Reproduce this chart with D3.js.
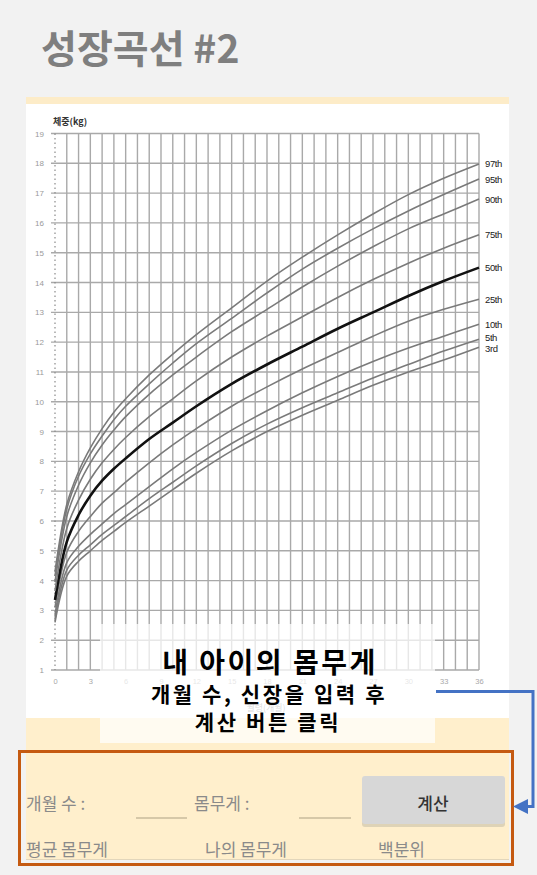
<!DOCTYPE html>
<html>
<head>
<meta charset="utf-8">
<script src="https://cdn.jsdelivr.net/npm/d3@7"></script>
<style>
  html, body { margin: 0; padding: 0; background: #f2f2f2; }
  svg { display: block; }
</style>
</head>
<body>
<svg id="chart" width="537" height="875"></svg>
<script>
// ---- data ----
const months = [0, 1, 2, 3, 4, 5, 6, 8, 10, 12, 15, 18, 21, 24, 27, 30, 33, 36];
const p3  = [2.6, 4.15, 4.65, 5.0, 5.35, 5.65, 5.95, 6.5, 7.05, 7.6, 8.35, 9.0, 9.55, 10.05, 10.55, 11.0, 11.4, 11.83];
const p5  = [2.7, 4.35, 4.85, 5.2, 5.55, 5.85, 6.15, 6.75, 7.3, 7.85, 8.6, 9.25, 9.8, 10.3, 10.8, 11.25, 11.7, 12.1];
const p10 = [2.85, 4.6, 5.15, 5.55, 5.9, 6.25, 6.55, 7.15, 7.75, 8.3, 9.05, 9.7, 10.3, 10.85, 11.35, 11.8, 12.2, 12.6];
const p25 = [3.1, 4.95, 5.65, 6.15, 6.6, 6.95, 7.3, 7.95, 8.55, 9.1, 9.85, 10.5, 11.1, 11.65, 12.2, 12.7, 13.1, 13.44];
const p50 = [3.35, 5.3, 6.2, 6.85, 7.35, 7.75, 8.1, 8.75, 9.3, 9.85, 10.6, 11.25, 11.85, 12.45, 13.0, 13.55, 14.05, 14.5];
const p75 = [3.65, 5.75, 6.7, 7.4, 7.95, 8.4, 8.8, 9.5, 10.1, 10.7, 11.5, 12.2, 12.85, 13.5, 14.1, 14.65, 15.15, 15.6];
const p90 = [3.95, 6.15, 7.2, 7.95, 8.55, 9.05, 9.5, 10.25, 10.9, 11.5, 12.35, 13.1, 13.85, 14.55, 15.2, 15.8, 16.3, 16.8];
const p95 = [4.15, 6.4, 7.5, 8.25, 8.85, 9.4, 9.85, 10.6, 11.3, 11.95, 12.8, 13.65, 14.45, 15.15, 15.8, 16.4, 16.95, 17.47];
const p97 = [4.3, 6.55, 7.65, 8.45, 9.1, 9.65, 10.1, 10.9, 11.6, 12.25, 13.15, 14.05, 14.85, 15.6, 16.3, 16.95, 17.5, 17.98];
const seriesNames = ["3rd", "5th", "10th", "25th", "50th", "75th", "90th", "95th", "97th"];
const seriesValues = [p3, p5, p10, p25, p50, p75, p90, p95, p97];
const xTickValues = [0, 3, 6, 9, 12, 15, 18, 21, 24, 27, 30, 33, 36];
const yTickValues = d3.range(1, 20);
const gridMonths = d3.range(0, 37);

const titleText = "성장곡선 #2";
const yAxisTitle = "체중(kg)";
const xAxisTitle = "월령(개월)";
const overlayLines = ["내 아이의 몸무게", "개월 수, 신장을 입력 후", "계산 버튼 클릭"];
const formRow1 = ["개월 수 :", "몸무게 :"];
const buttonLabel = "계산";
const formRow2 = ["평균 몸무게", "나의 몸무게", "백분위"];

// ---- drawing ----
const svg = d3.select("#chart");
const KR = "'Noto Sans CJK KR', 'Noto Sans', sans-serif";
const LAT = "'Liberation Sans', Arial, sans-serif";

svg.append("rect").attr("width", 537).attr("height", 875).attr("fill", "#f2f2f2");

// title
svg.append("text").attr("x", 41).attr("y", 63)
  .attr("font-family", KR).attr("font-weight", 700).attr("font-size", 39)
  .attr("fill", "#7f7f7f").text(titleText);

// card
svg.append("rect").attr("x", 26).attr("y", 97).attr("width", 483).attr("height", 763).attr("fill", "#ffffff");
svg.append("rect").attr("x", 26).attr("y", 97).attr("width", 483).attr("height", 7).attr("fill", "#fdecc8");
svg.append("rect").attr("x", 26).attr("y", 718).attr("width", 483).attr("height", 142).attr("fill", "#ffefcc");

const x = d3.scaleLinear().domain([0, 36]).range([55, 479]);
const y = d3.scaleLinear().domain([1, 19]).range([670, 133.5]);

const g = svg.append("g");

// horizontal grid
g.append("g").selectAll("line").data(yTickValues).join("line")
  .attr("x1", x(0) - 4).attr("x2", x(36))
  .attr("y1", d => y(d)).attr("y2", d => y(d))
  .attr("stroke", "#a9a9a9").attr("stroke-width", 1.4);

// vertical grid
g.append("g").selectAll("line").data(gridMonths.filter(d => d > 0)).join("line")
  .attr("x1", d => x(d)).attr("x2", d => x(d))
  .attr("y1", y(19)).attr("y2", y(1))
  .attr("stroke", "#a9a9a9").attr("stroke-width", 1.4);

// dotted y axis
g.append("line").attr("x1", x(0)).attr("x2", x(0)).attr("y1", y(19)).attr("y2", y(1))
  .attr("stroke", "#8a8a8a").attr("stroke-width", 1.2).attr("stroke-dasharray", "1.5,3");

// y tick labels
const yAxis = d3.axisLeft(y).tickValues(yTickValues).tickSize(0).tickPadding(11);
const yAx = svg.append("g").attr("transform", `translate(${x(0)},0)`).call(yAxis);
yAx.select(".domain").remove();
yAx.selectAll("text").attr("font-family", LAT).attr("font-size", 8).attr("fill", "#9a9a9a");

// x tick labels
const xAxis = d3.axisBottom(x).tickValues(xTickValues).tickSize(0).tickPadding(9);
const xAx = svg.append("g").attr("transform", `translate(0,${y(1)})`).call(xAxis);
xAx.select(".domain").remove();
xAx.selectAll("text").attr("font-family", LAT).attr("font-size", 7.5).attr("fill", "#a8a8a8");

// axis titles
svg.append("text").attr("x", 53).attr("y", 125).attr("font-family", KR).attr("font-weight", 700)
  .attr("font-size", 9).attr("fill", "#333").text(yAxisTitle);
svg.append("text").attr("x", 266).attr("y", 711).attr("text-anchor", "middle").attr("font-family", KR)
  .attr("font-size", 9).attr("fill", "#888").text(xAxisTitle);

// curves
const line = d3.line().x((d, i) => x(months[i])).y(d => y(d)).curve(d3.curveCatmullRom.alpha(0.5));
seriesValues.forEach((vals, i) => {
  const bold = seriesNames[i] === "50th";
  g.append("path").attr("d", line(vals)).attr("fill", "none")
    .attr("stroke", bold ? "#111" : "#7a7a7a").attr("stroke-width", bold ? 2.6 : 1.6);
});

// percentile labels with simple collision relaxation
const labels = seriesNames.map((n, i) => ({ n, y: y(seriesValues[i][seriesValues[i].length - 1]) }));
labels.sort((a, b) => b.y - a.y);
for (let it = 0; it < 30; it++) {
  for (let k = 0; k < labels.length - 1; k++) {
    const a = labels[k], b = labels[k + 1];
    const gap = a.y - b.y;
    if (gap < 10.5) { const s = (10.5 - gap) / 2; a.y += s; b.y -= s; }
  }
}
svg.append("g").selectAll("text").data(labels).join("text")
  .attr("x", x(36) + 6).attr("y", d => d.y + 3.5)
  .attr("font-family", LAT).attr("font-size", 9.5).attr("letter-spacing", -0.4)
  .attr("fill", "#222").text(d => d.n);

// translucent overlay
svg.append("rect").attr("x", 100).attr("y", 624).attr("width", 335).attr("height", 119)
  .attr("fill", "#ffffff").attr("opacity", 0.72);

// overlay text
const ov = svg.append("g").attr("font-family", KR).attr("font-weight", 700).attr("fill", "#000").attr("text-anchor", "middle");
ov.append("text").attr("x", 270).attr("y", 673).attr("font-size", 28).attr("letter-spacing", 2.5).text(overlayLines[0]);
ov.append("text").attr("x", 269).attr("y", 702).attr("font-size", 21).attr("letter-spacing", 2.6).text(overlayLines[1]);
ov.append("text").attr("x", 268).attr("y", 730).attr("font-size", 21).attr("letter-spacing", 2.6).text(overlayLines[2]);

// form area
const form = svg.append("g").attr("font-family", KR).attr("font-size", 17).attr("fill", "#8a8a8a");
form.append("text").attr("x", 26).attr("y", 810).text(formRow1[0]);
form.append("text").attr("x", 194).attr("y", 810).text(formRow1[1]);
form.append("line").attr("x1", 136).attr("x2", 187).attr("y1", 818).attr("y2", 818).attr("stroke", "#c9bb9c").attr("stroke-width", 1.5);
form.append("line").attr("x1", 299).attr("x2", 351).attr("y1", 818).attr("y2", 818).attr("stroke", "#c9bb9c").attr("stroke-width", 1.5);
form.append("rect").attr("x", 362).attr("y", 778).attr("width", 143).attr("height", 49).attr("rx", 3).attr("fill", "#c8bfa8").attr("opacity", 0.6);
form.append("rect").attr("x", 362).attr("y", 776).attr("width", 143).attr("height", 48).attr("rx", 3).attr("fill", "#d7d7d7");
form.append("text").attr("x", 433).attr("y", 810).attr("text-anchor", "middle").attr("fill", "#333").attr("font-weight", 500).text(buttonLabel);
form.append("text").attr("x", 26).attr("y", 856).text(formRow2[0]);
form.append("text").attr("x", 205).attr("y", 856).text(formRow2[1]);
form.append("text").attr("x", 378).attr("y", 856).text(formRow2[2]);
form.append("line").attr("x1", 26).attr("x2", 509).attr("y1", 859.5).attr("y2", 859.5).attr("stroke", "#e2d6bb").attr("stroke-width", 1);

// orange highlight box
svg.append("rect").attr("x", 19.5).attr("y", 751.5).attr("width", 493).attr("height", 113)
  .attr("fill", "none").attr("stroke", "#c55a11").attr("stroke-width", 3);

// blue connector arrow
svg.append("path").attr("d", "M436,691.5 H533 V806.5 H526")
  .attr("fill", "none").attr("stroke", "#4472c4").attr("stroke-width", 3);
svg.append("path").attr("d", "M513,806.5 L528,799 L528,814 Z").attr("fill", "#4472c4");
</script>
</body>
</html>
